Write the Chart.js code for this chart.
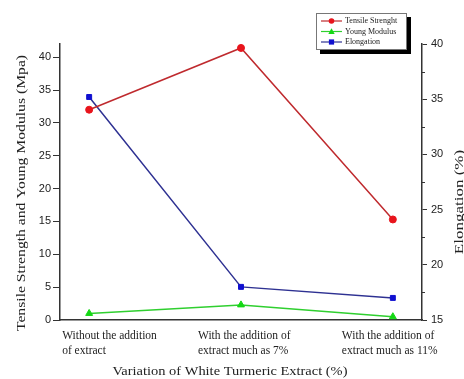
<!DOCTYPE html>
<html><head><meta charset="utf-8">
<script src="https://cdn.jsdelivr.net/npm/chart.js@4.4.1/dist/chart.umd.min.js"></script>
<style>html,body{margin:0;padding:0;background:#fff;}#wrap{width:464px;height:379px;position:relative}</style>
</head><body><div id="wrap"><canvas id="c"></canvas></div>
<script>
// ---- data ----
const categories = [
  ["Without the addition", "of extract"],
  ["With the addition of", "extract much as 7%"],
  ["With the addition of", "extract much as 11%"]
];
const seriesNames = ["Tensile Strenght", "Young Modulus", "Elongation"];
const tensileStrength = [32.0, 41.4, 15.3];
const youngModulus = [1.0, 2.3, 0.5];
const elongation = [35.2, 18.0, 17.0];
const leftTicks = [0, 5, 10, 15, 20, 25, 30, 35, 40];
const rightTicks = [15, 20, 25, 30, 35, 40];
const xTitle = "Variation of White Turmeric Extract (%)";
const leftTitle = "Tensile Strength and Young Modulus (Mpa)";
const rightTitle = "Elongation (%)";

// ---- styles ----
const SERIF = '"Liberation Serif", "Times New Roman", serif';
const SANS = '"Liberation Sans", Arial, sans-serif';
const styles = [
  {line: '#bf2a2e', point: '#e8141c', shape: 'circle', r: 3.5, axis: 'yL'},
  {line: '#2fcf2f', point: '#14d814', shape: 'triangle', r: 4, axis: 'yL'},
  {line: '#2e3192', point: '#1010d0', shape: 'rect', r: 3.5, axis: 'yR'}
];
const seriesData = [tensileStrength, youngModulus, elongation];

const datasets = seriesData.map((arr, s) => ({
  label: seriesNames[s],
  data: arr.map((v, i) => ({x: i, y: v})),
  yAxisID: styles[s].axis,
  borderColor: styles[s].line,
  backgroundColor: styles[s].point,
  pointBackgroundColor: styles[s].point,
  pointBorderColor: styles[s].point,
  pointStyle: styles[s].shape,
  pointRadius: styles[s].r,
  pointBorderWidth: 1,
  borderWidth: 1.5,
  tension: 0
}));

function stretchedText(ctx, text, x, y, rot, stretch) {
  ctx.save();
  ctx.translate(x, y);
  ctx.rotate(rot);
  ctx.scale(stretch, 1);
  ctx.fillText(text, 0, 0);
  ctx.restore();
}

const decor = {
  id: 'decor',
  afterDraw(chart) {
    const ctx = chart.ctx, xs = chart.scales.x, yR = chart.scales.yR, area = chart.chartArea;
    ctx.save();
    // minor ticks on the right axis
    ctx.strokeStyle = '#333'; ctx.lineWidth = 1;
    const t = yR.ticks;
    for (let i = 0; i < t.length - 1; i++) {
      const v = (t[i].value + t[i + 1].value) / 2;
      const py = Math.round(yR.getPixelForValue(v)) + 0.5;
      ctx.beginPath(); ctx.moveTo(area.right, py); ctx.lineTo(area.right + 3, py); ctx.stroke();
    }
    // category labels
    ctx.fillStyle = '#222';
    ctx.font = '11.5px ' + SERIF;
    ctx.textAlign = 'left'; ctx.textBaseline = 'middle';
    const shift = [-27, -43, -51];
    categories.forEach((lines, i) => {
      const px = xs.getPixelForValue(i) + shift[i];
      lines.forEach((s, j) => ctx.fillText(s, px, area.bottom + 16 + j * 15));
    });
    // titles
    ctx.textAlign = 'center';
    ctx.font = '13.5px ' + SERIF;
    stretchedText(ctx, xTitle, 230, 371, 0, 1.07);
    stretchedText(ctx, leftTitle, 21, 193, -Math.PI / 2, 1.16);
    stretchedText(ctx, rightTitle, 459, 202, -Math.PI / 2, 1.26);
    // legend with shadow
    const L = 316, T = 13, W = 91, H = 37;
    ctx.fillStyle = '#000'; ctx.fillRect(L + 4, T + 4, W, H);
    ctx.fillStyle = '#fff'; ctx.fillRect(L, T, W, H);
    ctx.strokeStyle = '#777'; ctx.lineWidth = 1; ctx.strokeRect(L + 0.5, T + 0.5, W - 1, H - 1);
    ctx.font = '8px ' + SERIF; ctx.textAlign = 'left';
    chart.data.datasets.forEach((ds, i) => {
      const y = T + 8 + i * 10.5;
      ctx.strokeStyle = ds.borderColor; ctx.lineWidth = 1.2;
      ctx.beginPath(); ctx.moveTo(L + 5, y); ctx.lineTo(L + 26, y); ctx.stroke();
      ctx.fillStyle = ds.pointBackgroundColor;
      const cx = L + 15.5;
      if (ds.pointStyle === 'circle') { ctx.beginPath(); ctx.arc(cx, y, 2.8, 0, Math.PI * 2); ctx.fill(); }
      else if (ds.pointStyle === 'triangle') { ctx.beginPath(); ctx.moveTo(cx, y - 3.2); ctx.lineTo(cx + 3.2, y + 2.4); ctx.lineTo(cx - 3.2, y + 2.4); ctx.closePath(); ctx.fill(); }
      else { ctx.fillRect(cx - 2.6, y - 2.6, 5.2, 5.2); }
      ctx.fillStyle = '#222';
      ctx.fillText(ds.label, L + 29, y);
    });
    ctx.restore();
  }
};

new Chart(document.getElementById('c'), {
  type: 'line',
  data: {datasets},
  plugins: [decor],
  options: {
    responsive: true, maintainAspectRatio: false, animation: false,
    layout: {padding: {top: 44, left: 0, right: 0, bottom: 0}},
    plugins: {legend: {display: false}, tooltip: {enabled: false}},
    scales: {
      x: {
        type: 'linear', min: -0.192, max: 2.192,
        afterBuildTicks: s => { s.ticks = categories.map((c, i) => ({value: i})); },
        afterFit: s => { s.height = 59; },
        ticks: {display: false},
        grid: {display: false},
        border: {display: true, color: '#333', width: 1.5}
      },
      yL: {
        position: 'left', min: 0, max: 42,
        afterBuildTicks: s => { s.ticks = leftTicks.map(v => ({value: v})); },
        afterFit: s => { s.width = 60; },
        ticks: {font: {family: SANS, size: 11}, color: '#222', padding: 2},
        grid: {drawOnChartArea: false, tickLength: 7, color: '#333', tickWidth: 1},
        border: {display: true, color: '#333', width: 1.5}
      },
      yR: {
        position: 'right', min: 15, max: 40,
        afterBuildTicks: s => { s.ticks = rightTicks.map(v => ({value: v})); },
        afterFit: s => { s.width = 42; },
        ticks: {font: {family: SANS, size: 11}, color: '#222', padding: 4},
        grid: {drawOnChartArea: false, tickLength: 5, color: '#333', tickWidth: 1},
        border: {display: true, color: '#333', width: 1.5}
      }
    }
  }
});
</script>
</body></html>
